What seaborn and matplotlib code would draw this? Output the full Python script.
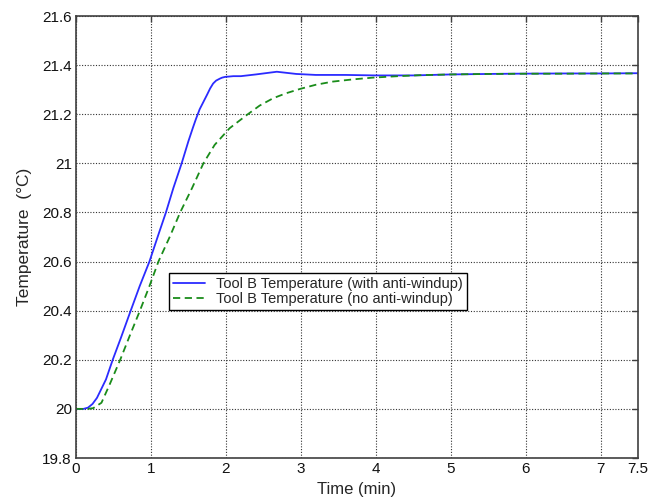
import matplotlib
matplotlib.use("Agg")
import matplotlib.pyplot as plt
import seaborn as sns
import pandas as pd

# Step response of Tool B temperature, with and without anti-windup
time_aw = [0, 0.1, 0.16, 0.22, 0.28, 0.4, 0.49, 0.6, 0.73, 0.85, 0.98, 1.1, 1.2, 1.3,
           1.41, 1.5, 1.56, 1.6, 1.65, 1.7, 1.75, 1.79, 1.83, 1.87, 1.92, 1.95, 1.99,
           2.1, 2.2, 2.4, 2.68, 2.94, 3.2, 3.6, 4.0, 4.5, 5.0, 5.5, 5.83, 6.5, 7.0, 7.5]
temp_aw = [20.0, 20.0, 20.005, 20.02, 20.045, 20.12, 20.2, 20.29, 20.4, 20.5, 20.6,
           20.71, 20.8, 20.9, 21.0, 21.09, 21.145, 21.18, 21.22, 21.25, 21.28,
           21.305, 21.325, 21.337, 21.345, 21.349, 21.352, 21.355, 21.355, 21.362,
           21.373, 21.364, 21.36, 21.36, 21.358, 21.358, 21.362, 21.364, 21.365,
           21.366, 21.366, 21.367]

time_naw = [0, 0.15, 0.23, 0.34, 0.45, 0.59, 0.72, 0.853, 0.98, 1.10, 1.25, 1.39,
            1.55, 1.70, 1.85, 2.05, 2.28, 2.45, 2.63, 2.8, 2.99, 3.2, 3.43, 3.7,
            3.96, 4.3, 4.59, 5.0, 5.5, 6.0, 6.5, 7.0, 7.5]
temp_naw = [20.0, 20.0, 20.003, 20.025, 20.1, 20.2, 20.3, 20.4, 20.5, 20.6, 20.7,
            20.8, 20.9, 21.0, 21.075, 21.143, 21.197, 21.235, 21.265, 21.285, 21.303,
            21.32, 21.333, 21.342, 21.349, 21.355, 21.359, 21.362, 21.364, 21.365,
            21.365, 21.366, 21.366]

label_aw = "Tool B Temperature (with anti-windup)"
label_naw = "Tool B Temperature (no anti-windup)"

x_ticks = [0, 1, 2, 3, 4, 5, 6, 7, 7.5]
x_ticklabels = ["0", "1", "2", "3", "4", "5", "6", "7", "7.5"]
y_ticks = [19.8, 20, 20.2, 20.4, 20.6, 20.8, 21, 21.2, 21.4, 21.6]
y_ticklabels = ["19.8", "20", "20.2", "20.4", "20.6", "20.8", "21", "21.2", "21.4", "21.6"]

df = pd.concat([
    pd.DataFrame({"t": time_aw, "T": temp_aw, "run": label_aw}),
    pd.DataFrame({"t": time_naw, "T": temp_naw, "run": label_naw}),
])

sns.set_style("white")
plt.rcParams["font.family"] = ["Liberation Sans", "DejaVu Sans"]

fig = plt.figure(figsize=(6.59, 4.98), dpi=100)
ax = fig.add_axes([76 / 659, 1 - 458 / 498, 562 / 659, 442 / 498])

sns.lineplot(data=df, x="t", y="T", hue="run", style="run",
             palette={label_aw: "#2b2bff", label_naw: "#1a8c1a"},
             dashes={label_aw: "", label_naw: (4, 2.5)},
             linewidth=1.3, sort=False, estimator=None, ax=ax)

ax.set_xlim(0, 7.5)
ax.set_ylim(19.8, 21.6)
ax.set_xticks(x_ticks)
ax.set_xticklabels(x_ticklabels)
ax.set_yticks(y_ticks)
ax.set_yticklabels(y_ticklabels)
ax.grid(True, color="#333333", linestyle=(0, (1, 1.5)), linewidth=0.8)
ax.tick_params(direction="in", length=4, width=1, color="#404040",
               top=True, right=True, labelsize=11, pad=3, labelcolor="#111111")
for s in ax.spines.values():
    s.set_color("#404040")
    s.set_linewidth(1.2)

ax.set_xlabel("Time (min)", fontsize=12, labelpad=4)
ax.set_ylabel("Temperature  (°C)", fontsize=12.5, labelpad=7)

leg = ax.legend(loc="upper left", bbox_to_anchor=((169 - 76) / 562, (458 - 273) / 442),
                fontsize=10.5, frameon=True, fancybox=False, framealpha=1,
                edgecolor="black", borderpad=0.25, handlelength=2.2,
                labelspacing=0.1, handletextpad=0.8, borderaxespad=0)
leg.get_frame().set_linewidth(1.0)

fig.savefig("out.png", dpi=100)
